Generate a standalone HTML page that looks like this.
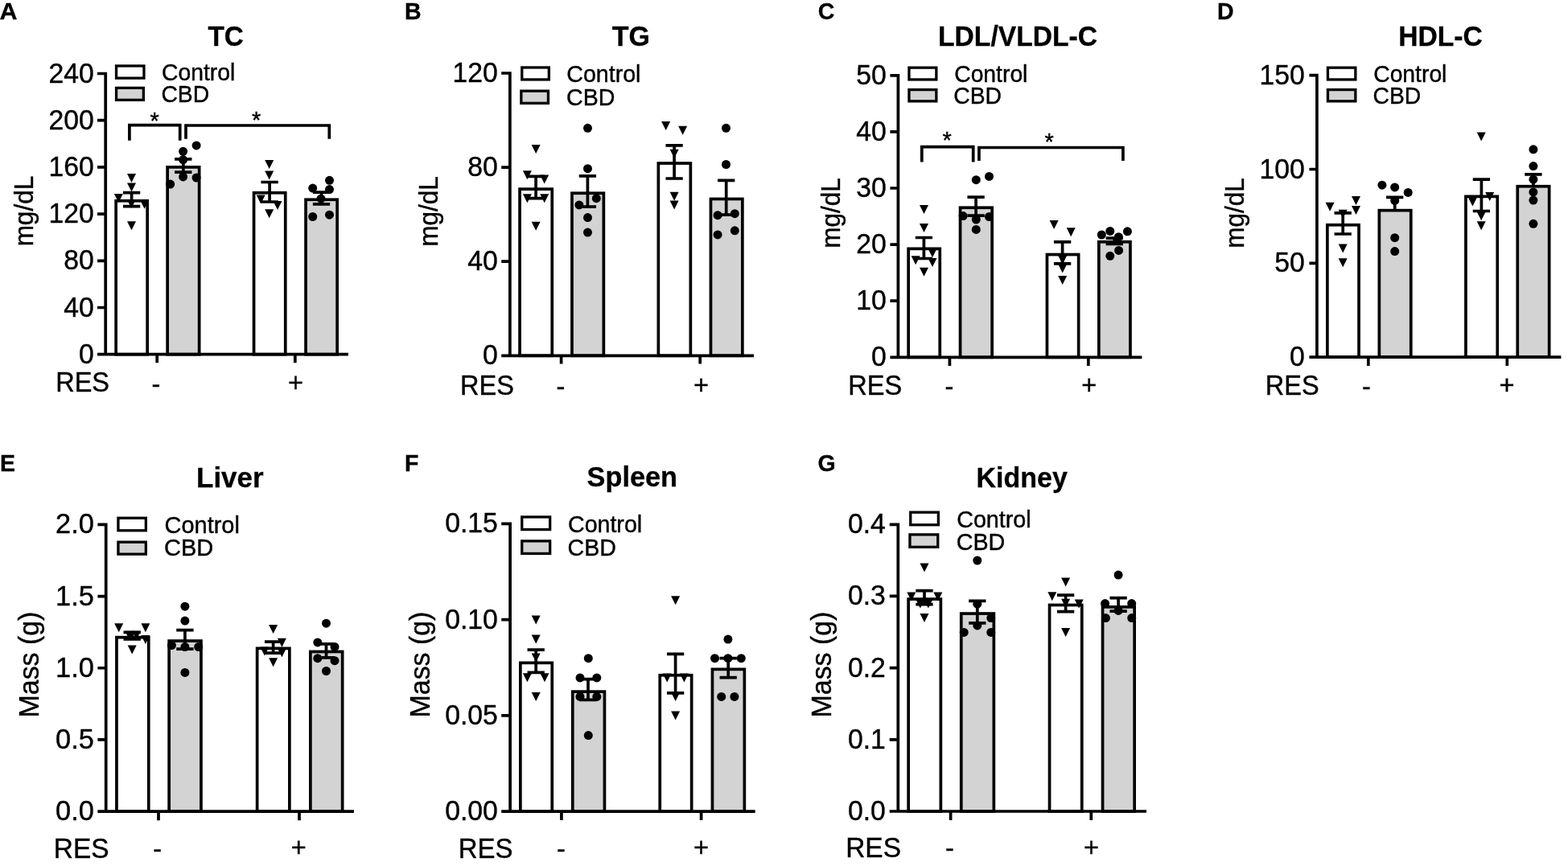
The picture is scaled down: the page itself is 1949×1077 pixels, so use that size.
<!DOCTYPE html>
<html lang="en">
<head>
<meta charset="utf-8">
<title>Figure</title>
<style>
html,body{margin:0;padding:0;background:#fff;}
body{width:1949px;height:1077px;overflow:hidden;}
svg{display:block;}
svg text{font-family:"Liberation Sans",sans-serif;fill:#000;}
</style>
</head>
<body>
<svg width="1949" height="1077" viewBox="0 0 1949 1077">
<rect width="1949" height="1077" fill="#fff"/>
<g class="panel">
<rect x="144.15" y="249.75" width="39" height="190.95" fill="#fff" stroke="#000" stroke-width="3.7"/>
<rect x="208.15" y="207.85" width="39.5" height="232.85" fill="#d3d3d3" stroke="#000" stroke-width="3.7"/>
<rect x="315.55" y="239.75" width="39.2" height="200.95" fill="#fff" stroke="#000" stroke-width="3.7"/>
<rect x="380.05" y="248.25" width="39.1" height="192.45" fill="#d3d3d3" stroke="#000" stroke-width="3.7"/>
<path d="M152.95 239.6H174.25M152.95 256.6H174.25M163.6 239.6V256.6" fill="none" stroke="#000" stroke-width="3.7"/>
<path d="M217.15 197.8H238.45M217.15 214.2H238.45M227.8 197.8V214.2" fill="none" stroke="#000" stroke-width="3.7"/>
<path d="M324.45 226.5H345.75M324.45 251H345.75M335.1 226.5V251" fill="none" stroke="#000" stroke-width="3.7"/>
<path d="M388.85 239.1H410.15M388.85 253.8H410.15M399.5 239.1V253.8" fill="none" stroke="#000" stroke-width="3.7"/>
<path d="M158 216h11l-5.5 11z"/>
<path d="M158 227.4h11l-5.5 11z"/>
<path d="M141.9 241h11l-5.5 11z"/>
<path d="M157.8 248.1h11l-5.5 11z"/>
<path d="M174.1 248.7h11l-5.5 11z"/>
<path d="M158 275.2h11l-5.5 11z"/>
<circle cx="244.1" cy="180.9" r="5.5"/>
<circle cx="227.6" cy="188.3" r="5.5"/>
<circle cx="227.6" cy="198.6" r="5.5"/>
<circle cx="227.6" cy="219.9" r="5.5"/>
<circle cx="244.1" cy="221" r="5.5"/>
<circle cx="211.7" cy="229.1" r="5.5"/>
<path d="M329.2 198.9h11l-5.5 11z"/>
<path d="M329.2 212.5h11l-5.5 11z"/>
<path d="M318.7 242.5h11l-5.5 11z"/>
<path d="M339.5 249.9h11l-5.5 11z"/>
<path d="M329.2 260.3h11l-5.5 11z"/>
<circle cx="409.5" cy="224.3" r="5.5"/>
<circle cx="388.7" cy="234.1" r="5.5"/>
<circle cx="409.5" cy="235.6" r="5.5"/>
<circle cx="399" cy="247.2" r="5.5"/>
<circle cx="388.7" cy="269.5" r="5.5"/>
<circle cx="409.5" cy="267.2" r="5.5"/>
<path d="M131.2 89.65V442.55M121 440.7H432.9M121 91.5H131.2M121 149.7H131.2M121 207.9H131.2M121 266.1H131.2M121 324.3H131.2M121 382.5H131.2M195.2 440.7V451.3M366.8 440.7V451.3" fill="none" stroke="#000" stroke-width="3.7"/>
<text transform="translate(116.8 102.5) scale(1 1.04)" font-size="33.7" text-anchor="end" stroke="#000" stroke-width="0.4">240</text>
<text transform="translate(116.8 160.7) scale(1 1.04)" font-size="33.7" text-anchor="end" stroke="#000" stroke-width="0.4">200</text>
<text transform="translate(116.8 218.9) scale(1 1.04)" font-size="33.7" text-anchor="end" stroke="#000" stroke-width="0.4">160</text>
<text transform="translate(116.8 277.1) scale(1 1.04)" font-size="33.7" text-anchor="end" stroke="#000" stroke-width="0.4">120</text>
<text transform="translate(116.8 335.3) scale(1 1.04)" font-size="33.7" text-anchor="end" stroke="#000" stroke-width="0.4">80</text>
<text transform="translate(116.8 393.5) scale(1 1.04)" font-size="33.7" text-anchor="end" stroke="#000" stroke-width="0.4">40</text>
<text transform="translate(116.8 451.7) scale(1 1.04)" font-size="33.7" text-anchor="end" stroke="#000" stroke-width="0.4">0</text>
<text transform="translate(41.2 262.6) rotate(-90) scale(1 1.045)" font-size="31.5" text-anchor="middle" stroke="#000" stroke-width="0.4">mg/dL</text>
<text transform="translate(280.6 56.6) scale(1 1.07)" font-size="33.3" text-anchor="middle" font-weight="bold" stroke="#000" stroke-width="0.3">TC</text>
<text transform="translate(-0.4 24.1) scale(1.07 1.06)" font-size="28.5" font-weight="bold" stroke="#000" stroke-width="0.3">A</text>
<rect x="144.55" y="81.95" width="34.4" height="15.2" fill="#fff" stroke="#000" stroke-width="3.3"/>
<rect x="144.55" y="109.35" width="33.8" height="15" fill="#d3d3d3" stroke="#000" stroke-width="3.3"/>
<text transform="translate(201 99.8) scale(1 1.045)" font-size="28.3" stroke="#000" stroke-width="0.4">Control</text>
<text transform="translate(200.4 127.2) scale(1 1.045)" font-size="28.3" stroke="#000" stroke-width="0.4">CBD</text>
<text transform="translate(69.2 487.2) scale(1 1.093)" font-size="32.5" stroke="#000" stroke-width="0.4">RES</text>
<text transform="translate(193.9 488.6)" font-size="32.5" text-anchor="middle" stroke="#000" stroke-width="0.4">-</text>
<text transform="translate(367.5 486.7)" font-size="32.5" text-anchor="middle" stroke="#000" stroke-width="0.4">+</text>
<path d="M160.9 174.7V155.7H223.7V174.7" fill="none" stroke="#000" stroke-width="3.7"/>
<path d="M231 172.7V156H409.3V172.7" fill="none" stroke="#000" stroke-width="3.7"/>
<text transform="translate(192.2 159.9)" font-size="29" text-anchor="middle" stroke="#000" stroke-width="0.4">*</text>
<text transform="translate(318.6 158.9)" font-size="29" text-anchor="middle" stroke="#000" stroke-width="0.4">*</text>
</g>
<g class="panel">
<rect x="646.05" y="235.15" width="40.2" height="207.15" fill="#fff" stroke="#000" stroke-width="3.7"/>
<rect x="710.95" y="240.25" width="39.4" height="202.05" fill="#d3d3d3" stroke="#000" stroke-width="3.7"/>
<rect x="818.35" y="203.05" width="40" height="239.25" fill="#fff" stroke="#000" stroke-width="3.7"/>
<rect x="883.45" y="247.45" width="39.4" height="194.85" fill="#d3d3d3" stroke="#000" stroke-width="3.7"/>
<path d="M655.45 219.4H676.75M655.45 246.7H676.75M666.1 219.4V246.7" fill="none" stroke="#000" stroke-width="3.7"/>
<path d="M719.75 218.9H741.05M719.75 257.2H741.05M730.4 218.9V257.2" fill="none" stroke="#000" stroke-width="3.7"/>
<path d="M827.45 180.9H848.75M827.45 222H848.75M838.1 180.9V222" fill="none" stroke="#000" stroke-width="3.7"/>
<path d="M892.05 224.3H913.35M892.05 267.2H913.35M902.7 224.3V267.2" fill="none" stroke="#000" stroke-width="3.7"/>
<path d="M660.6 180.1h11l-5.5 11z"/>
<path d="M649.9 212.2h11l-5.5 11z"/>
<path d="M671.2 217.4h11l-5.5 11z"/>
<path d="M649.9 241.3h11l-5.5 11z"/>
<path d="M671.2 241.3h11l-5.5 11z"/>
<path d="M660.6 275.7h11l-5.5 11z"/>
<circle cx="730.5" cy="159.3" r="5.5"/>
<circle cx="730.5" cy="209.7" r="5.5"/>
<circle cx="741.3" cy="246.7" r="5.5"/>
<circle cx="719.9" cy="254.9" r="5.5"/>
<circle cx="730.5" cy="270.6" r="5.5"/>
<circle cx="730.5" cy="289.1" r="5.5"/>
<path d="M822.1 151.1h11l-5.5 11z"/>
<path d="M843.1 156.7h11l-5.5 11z"/>
<path d="M832.6 185.8h11l-5.5 11z"/>
<path d="M832.6 238.7h11l-5.5 11z"/>
<path d="M832.6 249.5h11l-5.5 11z"/>
<circle cx="902.5" cy="159.3" r="5.5"/>
<circle cx="902.5" cy="204.5" r="5.5"/>
<circle cx="892.1" cy="267.7" r="5.5"/>
<circle cx="913.3" cy="265.7" r="5.5"/>
<circle cx="913.3" cy="286.8" r="5.5"/>
<circle cx="892.1" cy="291.9" r="5.5"/>
<path d="M633.85 89.15V444.15M623.2 442.3H937M623.2 91H633.85M623.2 208.1H633.85M623.2 325.2H633.85M697.6 442.3V452.4M870.2 442.3V452.4" fill="none" stroke="#000" stroke-width="3.7"/>
<text transform="translate(618.8 102) scale(1 1.04)" font-size="33.7" text-anchor="end" stroke="#000" stroke-width="0.4">120</text>
<text transform="translate(618.8 219.1) scale(1 1.04)" font-size="33.7" text-anchor="end" stroke="#000" stroke-width="0.4">80</text>
<text transform="translate(618.8 336.2) scale(1 1.04)" font-size="33.7" text-anchor="end" stroke="#000" stroke-width="0.4">40</text>
<text transform="translate(618.8 453.3) scale(1 1.04)" font-size="33.7" text-anchor="end" stroke="#000" stroke-width="0.4">0</text>
<text transform="translate(544 263) rotate(-90) scale(1 1.045)" font-size="31.5" text-anchor="middle" stroke="#000" stroke-width="0.4">mg/dL</text>
<text transform="translate(784.4 56.8) scale(1.02 1.07)" font-size="33.3" text-anchor="middle" font-weight="bold" stroke="#000" stroke-width="0.3">TG</text>
<text transform="translate(503 24.3) scale(1 1.06)" font-size="28.5" font-weight="bold" stroke="#000" stroke-width="0.3">B</text>
<rect x="648.75" y="83.95" width="33.6" height="15" fill="#fff" stroke="#000" stroke-width="3.3"/>
<rect x="647.85" y="113.15" width="33.6" height="15.2" fill="#d3d3d3" stroke="#000" stroke-width="3.3"/>
<text transform="translate(704.3 101.8) scale(1.01 1.045)" font-size="28.3" stroke="#000" stroke-width="0.4">Control</text>
<text transform="translate(704 130.9) scale(1.01 1.045)" font-size="28.3" stroke="#000" stroke-width="0.4">CBD</text>
<text transform="translate(572 490.8) scale(1 1.093)" font-size="32.5" stroke="#000" stroke-width="0.4">RES</text>
<text transform="translate(697 492.2)" font-size="32.5" text-anchor="middle" stroke="#000" stroke-width="0.4">-</text>
<text transform="translate(871.4 490.3)" font-size="32.5" text-anchor="middle" stroke="#000" stroke-width="0.4">+</text>
</g>
<g class="panel">
<rect x="1129.15" y="309.35" width="39.1" height="134.95" fill="#fff" stroke="#000" stroke-width="3.7"/>
<rect x="1193.55" y="258.25" width="39.6" height="186.05" fill="#d3d3d3" stroke="#000" stroke-width="3.7"/>
<rect x="1301.45" y="316.55" width="39.2" height="127.75" fill="#fff" stroke="#000" stroke-width="3.7"/>
<rect x="1365.85" y="300.75" width="39.1" height="143.55" fill="#d3d3d3" stroke="#000" stroke-width="3.7"/>
<path d="M1137.75 295.5H1159.05M1137.75 321.5H1159.05M1148.4 295.5V321.5" fill="none" stroke="#000" stroke-width="3.7"/>
<path d="M1202.45 245.1H1223.75M1202.45 268.1H1223.75M1213.1 245.1V268.1" fill="none" stroke="#000" stroke-width="3.7"/>
<path d="M1309.95 300.9H1331.25M1309.95 327.8H1331.25M1320.6 300.9V327.8" fill="none" stroke="#000" stroke-width="3.7"/>
<path d="M1374.65 296.2H1395.95M1374.65 303.5H1395.95M1385.3 296.2V303.5" fill="none" stroke="#000" stroke-width="3.7"/>
<path d="M1143 254.9h11l-5.5 11z"/>
<path d="M1143 278.1h11l-5.5 11z"/>
<path d="M1153.5 309.3h11l-5.5 11z"/>
<path d="M1132.6 318.3h11l-5.5 11z"/>
<path d="M1153.5 320.9h11l-5.5 11z"/>
<path d="M1143 332.8h11l-5.5 11z"/>
<circle cx="1213.3" cy="223.7" r="5.5"/>
<circle cx="1229.5" cy="219.4" r="5.5"/>
<circle cx="1197.1" cy="268.6" r="5.5"/>
<circle cx="1213.3" cy="273" r="5.5"/>
<circle cx="1229.5" cy="269.5" r="5.5"/>
<circle cx="1213.3" cy="285.4" r="5.5"/>
<path d="M1304.6 274h11l-5.5 11z"/>
<path d="M1325.7 283.2h11l-5.5 11z"/>
<path d="M1315.2 317.8h11l-5.5 11z"/>
<path d="M1315.2 328.6h11l-5.5 11z"/>
<path d="M1315.2 343h11l-5.5 11z"/>
<circle cx="1369.3" cy="292" r="5.5"/>
<circle cx="1379.8" cy="287.4" r="5.5"/>
<circle cx="1401.4" cy="287.8" r="5.5"/>
<circle cx="1390.4" cy="294.7" r="5.5"/>
<circle cx="1390.6" cy="311.4" r="5.5"/>
<circle cx="1379.8" cy="318.3" r="5.5"/>
<path d="M1116.4 91.95V446.15M1106.4 444.3H1419.4M1106.4 93.8H1116.4M1106.4 163.9H1116.4M1106.4 234H1116.4M1106.4 304.1H1116.4M1106.4 374.2H1116.4M1180.4 444.3V455M1352.8 444.3V455" fill="none" stroke="#000" stroke-width="3.7"/>
<text transform="translate(1101.7 104.8) scale(1 1.04)" font-size="33.7" text-anchor="end" stroke="#000" stroke-width="0.4">50</text>
<text transform="translate(1101.7 174.9) scale(1 1.04)" font-size="33.7" text-anchor="end" stroke="#000" stroke-width="0.4">40</text>
<text transform="translate(1101.7 245) scale(1 1.04)" font-size="33.7" text-anchor="end" stroke="#000" stroke-width="0.4">30</text>
<text transform="translate(1101.7 315.1) scale(1 1.04)" font-size="33.7" text-anchor="end" stroke="#000" stroke-width="0.4">20</text>
<text transform="translate(1101.7 385.2) scale(1 1.04)" font-size="33.7" text-anchor="end" stroke="#000" stroke-width="0.4">10</text>
<text transform="translate(1101.7 455.3) scale(1 1.04)" font-size="33.7" text-anchor="end" stroke="#000" stroke-width="0.4">0</text>
<text transform="translate(1044.1 265) rotate(-90) scale(1 1.045)" font-size="31.5" text-anchor="middle" stroke="#000" stroke-width="0.4">mg/dL</text>
<text transform="translate(1265 56.6) scale(1.01 1.07)" font-size="33.3" text-anchor="middle" font-weight="bold" stroke="#000" stroke-width="0.3">LDL/VLDL-C</text>
<text transform="translate(1016.7 24.3) scale(1 1.06)" font-size="28.5" font-weight="bold" stroke="#000" stroke-width="0.3">C</text>
<rect x="1129.95" y="84.15" width="33.9" height="14.8" fill="#fff" stroke="#000" stroke-width="3.3"/>
<rect x="1129.95" y="111.55" width="33.9" height="14.3" fill="#d3d3d3" stroke="#000" stroke-width="3.3"/>
<text transform="translate(1186.2 101.8) scale(1 1.045)" font-size="28.3" stroke="#000" stroke-width="0.4">Control</text>
<text transform="translate(1185.3 128.7) scale(1 1.045)" font-size="28.3" stroke="#000" stroke-width="0.4">CBD</text>
<text transform="translate(1054.3 490.8) scale(1 1.093)" font-size="32.5" stroke="#000" stroke-width="0.4">RES</text>
<text transform="translate(1179.9 492.2)" font-size="32.5" text-anchor="middle" stroke="#000" stroke-width="0.4">-</text>
<text transform="translate(1353.8 490.3)" font-size="32.5" text-anchor="middle" stroke="#000" stroke-width="0.4">+</text>
<path d="M1145.8 201.6V182.7H1209.7V201.6" fill="none" stroke="#000" stroke-width="3.7"/>
<path d="M1216.9 200.1V183.5H1395.9V200.1" fill="none" stroke="#000" stroke-width="3.7"/>
<text transform="translate(1177.1 183.7)" font-size="29" text-anchor="middle" stroke="#000" stroke-width="0.4">*</text>
<text transform="translate(1304.2 185.7)" font-size="29" text-anchor="middle" stroke="#000" stroke-width="0.4">*</text>
</g>
<g class="panel">
<rect x="1649.85" y="279.75" width="39.2" height="164.35" fill="#fff" stroke="#000" stroke-width="3.7"/>
<rect x="1714.35" y="261.65" width="39.4" height="182.45" fill="#d3d3d3" stroke="#000" stroke-width="3.7"/>
<rect x="1821.95" y="244.35" width="39.3" height="199.75" fill="#fff" stroke="#000" stroke-width="3.7"/>
<rect x="1886.25" y="231.75" width="39.4" height="212.35" fill="#d3d3d3" stroke="#000" stroke-width="3.7"/>
<path d="M1658.55 264.8H1679.85M1658.55 291H1679.85M1669.2 264.8V291" fill="none" stroke="#000" stroke-width="3.7"/>
<path d="M1723.05 245.3H1744.35M1733.7 245.3V261" fill="none" stroke="#000" stroke-width="3.7"/>
<path d="M1830.75 223.2H1852.05M1830.75 262.5H1852.05M1841.4 223.2V262.5" fill="none" stroke="#000" stroke-width="3.7"/>
<path d="M1895.25 216.8H1916.55M1905.9 216.8V231.5" fill="none" stroke="#000" stroke-width="3.7"/>
<path d="M1647.6 251.7h11l-5.5 11z"/>
<path d="M1680 244h11l-5.5 11z"/>
<path d="M1680 256.1h11l-5.5 11z"/>
<path d="M1663.7 260.7h11l-5.5 11z"/>
<path d="M1663.7 303.4h11l-5.5 11z"/>
<path d="M1663.7 321.3h11l-5.5 11z"/>
<circle cx="1717.9" cy="230.2" r="5.5"/>
<circle cx="1733.7" cy="232.9" r="5.5"/>
<circle cx="1750.2" cy="239.4" r="5.5"/>
<circle cx="1733.7" cy="249.4" r="5.5"/>
<circle cx="1733.7" cy="295.7" r="5.5"/>
<circle cx="1733.7" cy="312.6" r="5.5"/>
<path d="M1835.7 164.6h11l-5.5 11z"/>
<path d="M1846.2 239.1h11l-5.5 11z"/>
<path d="M1824.9 245.6h11l-5.5 11z"/>
<path d="M1835.7 263.3h11l-5.5 11z"/>
<path d="M1835.7 275.2h11l-5.5 11z"/>
<circle cx="1905.9" cy="185.8" r="5.5"/>
<circle cx="1905.9" cy="206.6" r="5.5"/>
<circle cx="1905.9" cy="223.2" r="5.5"/>
<circle cx="1905.9" cy="238.9" r="5.5"/>
<circle cx="1905.9" cy="249.1" r="5.5"/>
<circle cx="1905.9" cy="278.3" r="5.5"/>
<path d="M1636.9 91.85V445.95M1627.4 444.1H1940.4M1627.4 93.7H1636.9M1627.4 210.5H1636.9M1627.4 327.3H1636.9M1700.8 444.1V455M1873.3 444.1V455" fill="none" stroke="#000" stroke-width="3.7"/>
<text transform="translate(1621.7 104.7) scale(1 1.04)" font-size="33.7" text-anchor="end" stroke="#000" stroke-width="0.4">150</text>
<text transform="translate(1621.7 221.5) scale(1 1.04)" font-size="33.7" text-anchor="end" stroke="#000" stroke-width="0.4">100</text>
<text transform="translate(1621.7 338.3) scale(1 1.04)" font-size="33.7" text-anchor="end" stroke="#000" stroke-width="0.4">50</text>
<text transform="translate(1621.7 455.1) scale(1 1.04)" font-size="33.7" text-anchor="end" stroke="#000" stroke-width="0.4">0</text>
<text transform="translate(1546 265) rotate(-90) scale(1 1.045)" font-size="31.5" text-anchor="middle" stroke="#000" stroke-width="0.4">mg/dL</text>
<text transform="translate(1790.4 56.5) scale(1.01 1.07)" font-size="33.3" text-anchor="middle" font-weight="bold" stroke="#000" stroke-width="0.3">HDL-C</text>
<text transform="translate(1513 24.3) scale(1 1.06)" font-size="28.5" font-weight="bold" stroke="#000" stroke-width="0.3">D</text>
<rect x="1650.45" y="84.15" width="34.4" height="14.8" fill="#fff" stroke="#000" stroke-width="3.3"/>
<rect x="1650.45" y="111.55" width="34.4" height="14.3" fill="#d3d3d3" stroke="#000" stroke-width="3.3"/>
<text transform="translate(1707.2 101.8) scale(1 1.045)" font-size="28.3" stroke="#000" stroke-width="0.4">Control</text>
<text transform="translate(1706.5 128.7) scale(1 1.045)" font-size="28.3" stroke="#000" stroke-width="0.4">CBD</text>
<text transform="translate(1572.8 490.8) scale(1 1.093)" font-size="32.5" stroke="#000" stroke-width="0.4">RES</text>
<text transform="translate(1698.3 492.2)" font-size="32.5" text-anchor="middle" stroke="#000" stroke-width="0.4">-</text>
<text transform="translate(1873 490.3)" font-size="32.5" text-anchor="middle" stroke="#000" stroke-width="0.4">+</text>
</g>
<g class="panel">
<rect x="144.95" y="792.65" width="39.8" height="216.45" fill="#fff" stroke="#000" stroke-width="3.7"/>
<rect x="210.15" y="797.05" width="39.8" height="212.05" fill="#d3d3d3" stroke="#000" stroke-width="3.7"/>
<rect x="319.65" y="806.35" width="40.2" height="202.75" fill="#fff" stroke="#000" stroke-width="3.7"/>
<rect x="385.85" y="810.45" width="39.8" height="198.65" fill="#d3d3d3" stroke="#000" stroke-width="3.7"/>
<path d="M153.55 786.3H174.85M153.55 794.8H174.85M164.2 786.3V794.8" fill="none" stroke="#000" stroke-width="3.7"/>
<path d="M219.25 783.7H240.55M219.25 807.1H240.55M229.9 783.7V807.1" fill="none" stroke="#000" stroke-width="3.7"/>
<path d="M328.95 798.2H350.25M328.95 812.2H350.25M339.6 798.2V812.2" fill="none" stroke="#000" stroke-width="3.7"/>
<path d="M394.85 800.9H416.15M394.85 817.9H416.15M405.5 800.9V817.9" fill="none" stroke="#000" stroke-width="3.7"/>
<path d="M142.2 775.2h11l-5.5 11z"/>
<path d="M175.4 775.2h11l-5.5 11z"/>
<path d="M155.4 784.7h11l-5.5 11z"/>
<path d="M164 784.7h11l-5.5 11z"/>
<path d="M175.4 790.1h11l-5.5 11z"/>
<path d="M158.7 802.5h11l-5.5 11z"/>
<circle cx="229.9" cy="754.2" r="5.5"/>
<circle cx="229.9" cy="772.1" r="5.5"/>
<circle cx="213.4" cy="802.6" r="5.5"/>
<circle cx="229.9" cy="804.5" r="5.5"/>
<circle cx="246.7" cy="804.5" r="5.5"/>
<circle cx="229.9" cy="836.4" r="5.5"/>
<path d="M334.1 777h11l-5.5 11z"/>
<path d="M344.9 793.7h11l-5.5 11z"/>
<path d="M323.4 804.5h11l-5.5 11z"/>
<path d="M344.9 806.3h11l-5.5 11z"/>
<path d="M334.1 818.2h11l-5.5 11z"/>
<circle cx="405.5" cy="775.2" r="5.5"/>
<circle cx="394.8" cy="798.9" r="5.5"/>
<circle cx="416" cy="804.5" r="5.5"/>
<circle cx="394.8" cy="818.7" r="5.5"/>
<circle cx="416" cy="821.7" r="5.5"/>
<circle cx="405.5" cy="834.5" r="5.5"/>
<path d="M131.7 650.55V1010.95M121.4 1009.1H439.9M121.4 652.4H131.7M121.4 741.58H131.7M121.4 830.75H131.7M121.4 919.92H131.7M197 1009.1V1020.3M372 1009.1V1020.3" fill="none" stroke="#000" stroke-width="3.7"/>
<text transform="translate(116.9 663.4) scale(1.02 1.04)" font-size="33.7" text-anchor="end" stroke="#000" stroke-width="0.4">2.0</text>
<text transform="translate(116.9 752.58) scale(1.02 1.04)" font-size="33.7" text-anchor="end" stroke="#000" stroke-width="0.4">1.5</text>
<text transform="translate(116.9 841.75) scale(1.02 1.04)" font-size="33.7" text-anchor="end" stroke="#000" stroke-width="0.4">1.0</text>
<text transform="translate(116.9 930.92) scale(1.02 1.04)" font-size="33.7" text-anchor="end" stroke="#000" stroke-width="0.4">0.5</text>
<text transform="translate(116.9 1020.1) scale(1.02 1.04)" font-size="33.7" text-anchor="end" stroke="#000" stroke-width="0.4">0.0</text>
<text transform="translate(47.6 826.5) rotate(-90) scale(1 1.02)" font-size="33.9" text-anchor="middle" stroke="#000" stroke-width="0.4">Mass (g)</text>
<text transform="translate(285.8 605.9) scale(1.05 1.07)" font-size="33.3" text-anchor="middle" font-weight="bold" stroke="#000" stroke-width="0.3">Liver</text>
<text transform="translate(0 585.8) scale(1 1.06)" font-size="28.5" font-weight="bold" stroke="#000" stroke-width="0.3">E</text>
<rect x="146.95" y="644.25" width="34.4" height="15.5" fill="#fff" stroke="#000" stroke-width="3.3"/>
<rect x="146.95" y="674.15" width="34.4" height="15" fill="#d3d3d3" stroke="#000" stroke-width="3.3"/>
<text transform="translate(204.6 662.6) scale(1.023 1.045)" font-size="28.3" stroke="#000" stroke-width="0.4">Control</text>
<text transform="translate(204 691.4) scale(1.023 1.045)" font-size="28.3" stroke="#000" stroke-width="0.4">CBD</text>
<text transform="translate(66.8 1066.5) scale(1.03 1.093)" font-size="32.5" stroke="#000" stroke-width="0.4">RES</text>
<text transform="translate(195.6 1066.8)" font-size="32.5" text-anchor="middle" stroke="#000" stroke-width="0.4">-</text>
<text transform="translate(371.3 1065)" font-size="32.5" text-anchor="middle" stroke="#000" stroke-width="0.4">+</text>
</g>
<g class="panel">
<rect x="646.85" y="824.35" width="39.4" height="184.85" fill="#fff" stroke="#000" stroke-width="3.7"/>
<rect x="711.75" y="860.15" width="39.7" height="149.05" fill="#d3d3d3" stroke="#000" stroke-width="3.7"/>
<rect x="820.25" y="839.75" width="39.4" height="169.45" fill="#fff" stroke="#000" stroke-width="3.7"/>
<rect x="885.45" y="832.35" width="39.9" height="176.85" fill="#d3d3d3" stroke="#000" stroke-width="3.7"/>
<path d="M655.55 808.2H676.85M655.55 836.4H676.85M666.2 808.2V836.4" fill="none" stroke="#000" stroke-width="3.7"/>
<path d="M720.35 844.6H741.65M720.35 870.3H741.65M731 844.6V870.3" fill="none" stroke="#000" stroke-width="3.7"/>
<path d="M828.95 813.3H850.25M828.95 861.8H850.25M839.6 813.3V861.8" fill="none" stroke="#000" stroke-width="3.7"/>
<path d="M894.55 818.7H915.85M894.55 842.6H915.85M905.2 818.7V842.6" fill="none" stroke="#000" stroke-width="3.7"/>
<path d="M660.7 765.5h11l-5.5 11z"/>
<path d="M660.7 789.4h11l-5.5 11z"/>
<path d="M660.7 812.5h11l-5.5 11z"/>
<path d="M649.9 837.2h11l-5.5 11z"/>
<path d="M671.5 837.2h11l-5.5 11z"/>
<path d="M660.7 861.1h11l-5.5 11z"/>
<circle cx="731.3" cy="818.7" r="5.5"/>
<circle cx="721" cy="842.9" r="5.5"/>
<circle cx="741.8" cy="842.9" r="5.5"/>
<circle cx="721" cy="866.4" r="5.5"/>
<circle cx="741.8" cy="866.4" r="5.5"/>
<circle cx="731.3" cy="914.6" r="5.5"/>
<path d="M834.1 741.3h11l-5.5 11z"/>
<path d="M823.7 837.5h11l-5.5 11z"/>
<path d="M844.9 837.5h11l-5.5 11z"/>
<path d="M834.1 861.1h11l-5.5 11z"/>
<path d="M834.1 884.6h11l-5.5 11z"/>
<circle cx="904.9" cy="795.1" r="5.5"/>
<circle cx="888.5" cy="818.7" r="5.5"/>
<circle cx="904.9" cy="818.7" r="5.5"/>
<circle cx="921.3" cy="818.7" r="5.5"/>
<circle cx="896.7" cy="866.4" r="5.5"/>
<circle cx="912.9" cy="866.4" r="5.5"/>
<path d="M634.1 649.45V1011.05M623.2 1009.2H938.7M623.2 651.3H634.1M623.2 770.6H634.1M623.2 889.9H634.1M697.9 1009.2V1020.1M871.6 1009.2V1020.1" fill="none" stroke="#000" stroke-width="3.7"/>
<text transform="translate(618.8 662.3) scale(1 1.04)" font-size="33.7" text-anchor="end" stroke="#000" stroke-width="0.4">0.15</text>
<text transform="translate(618.8 781.6) scale(1 1.04)" font-size="33.7" text-anchor="end" stroke="#000" stroke-width="0.4">0.10</text>
<text transform="translate(618.8 900.9) scale(1 1.04)" font-size="33.7" text-anchor="end" stroke="#000" stroke-width="0.4">0.05</text>
<text transform="translate(618.8 1020.2) scale(1 1.04)" font-size="33.7" text-anchor="end" stroke="#000" stroke-width="0.4">0.00</text>
<text transform="translate(534 826.5) rotate(-90) scale(1 1.02)" font-size="33.9" text-anchor="middle" stroke="#000" stroke-width="0.4">Mass (g)</text>
<text transform="translate(785.8 605.4) scale(1.03 1.07)" font-size="33.3" text-anchor="middle" font-weight="bold" stroke="#000" stroke-width="0.3">Spleen</text>
<text transform="translate(503 585.8) scale(1 1.06)" font-size="28.5" font-weight="bold" stroke="#000" stroke-width="0.3">F</text>
<rect x="648.75" y="642.95" width="34.9" height="15.6" fill="#fff" stroke="#000" stroke-width="3.3"/>
<rect x="648.75" y="672.85" width="34.9" height="15.6" fill="#d3d3d3" stroke="#000" stroke-width="3.3"/>
<text transform="translate(706 661.9) scale(1.01 1.045)" font-size="28.3" stroke="#000" stroke-width="0.4">Control</text>
<text transform="translate(705.5 691.3) scale(1.01 1.045)" font-size="28.3" stroke="#000" stroke-width="0.4">CBD</text>
<text transform="translate(569.8 1066.5) scale(1.015 1.093)" font-size="32.5" stroke="#000" stroke-width="0.4">RES</text>
<text transform="translate(697.4 1066.8)" font-size="32.5" text-anchor="middle" stroke="#000" stroke-width="0.4">-</text>
<text transform="translate(871.4 1065)" font-size="32.5" text-anchor="middle" stroke="#000" stroke-width="0.4">+</text>
</g>
<g class="panel">
<rect x="1129.15" y="745.05" width="40.2" height="263.95" fill="#fff" stroke="#000" stroke-width="3.7"/>
<rect x="1194.75" y="763.05" width="40.6" height="245.95" fill="#d3d3d3" stroke="#000" stroke-width="3.7"/>
<rect x="1304.55" y="752.45" width="40.2" height="256.55" fill="#fff" stroke="#000" stroke-width="3.7"/>
<rect x="1370.55" y="754.85" width="39.6" height="254.15" fill="#d3d3d3" stroke="#000" stroke-width="3.7"/>
<path d="M1138.35 734.7H1159.65M1138.35 751.7H1159.65M1149 734.7V751.7" fill="none" stroke="#000" stroke-width="3.7"/>
<path d="M1204.15 747.4H1225.45M1204.15 774.8H1225.45M1214.8 747.4V774.8" fill="none" stroke="#000" stroke-width="3.7"/>
<path d="M1313.95 740.1H1335.25M1313.95 760.6H1335.25M1324.6 740.1V760.6" fill="none" stroke="#000" stroke-width="3.7"/>
<path d="M1379.45 743.7H1400.75M1379.45 760.2H1400.75M1390.1 743.7V760.2" fill="none" stroke="#000" stroke-width="3.7"/>
<path d="M1143.5 700.5h11l-5.5 11z"/>
<path d="M1127.3 736.6h11l-5.5 11z"/>
<path d="M1160.3 736.6h11l-5.5 11z"/>
<path d="M1138.4 745.5h11l-5.5 11z"/>
<path d="M1148.4 745.5h11l-5.5 11z"/>
<path d="M1143.5 762.9h11l-5.5 11z"/>
<circle cx="1214.8" cy="697" r="5.5"/>
<circle cx="1214.8" cy="751.2" r="5.5"/>
<circle cx="1231.8" cy="768.6" r="5.5"/>
<circle cx="1214.8" cy="777.9" r="5.5"/>
<circle cx="1198.2" cy="786.4" r="5.5"/>
<circle cx="1231.8" cy="786.4" r="5.5"/>
<path d="M1319.1 718.5h11l-5.5 11z"/>
<path d="M1302.3 736.3h11l-5.5 11z"/>
<path d="M1319.1 744.7h11l-5.5 11z"/>
<path d="M1335.7 745.5h11l-5.5 11z"/>
<path d="M1319.1 781h11l-5.5 11z"/>
<circle cx="1390.1" cy="715.1" r="5.5"/>
<circle cx="1373.6" cy="750.6" r="5.5"/>
<circle cx="1406.7" cy="750.6" r="5.5"/>
<circle cx="1390.1" cy="759.4" r="5.5"/>
<circle cx="1374.4" cy="768.6" r="5.5"/>
<circle cx="1406.7" cy="768.6" r="5.5"/>
<path d="M1116.3 650.45V1010.85M1105.7 1009H1425M1105.7 652.3H1116.3M1105.7 741.47H1116.3M1105.7 830.65H1116.3M1105.7 919.83H1116.3M1181.6 1009V1020M1356.3 1009V1020" fill="none" stroke="#000" stroke-width="3.7"/>
<text transform="translate(1100.8 663.3) scale(1 1.04)" font-size="33.7" text-anchor="end" stroke="#000" stroke-width="0.4">0.4</text>
<text transform="translate(1100.8 752.47) scale(1 1.04)" font-size="33.7" text-anchor="end" stroke="#000" stroke-width="0.4">0.3</text>
<text transform="translate(1100.8 841.65) scale(1 1.04)" font-size="33.7" text-anchor="end" stroke="#000" stroke-width="0.4">0.2</text>
<text transform="translate(1100.8 930.83) scale(1 1.04)" font-size="33.7" text-anchor="end" stroke="#000" stroke-width="0.4">0.1</text>
<text transform="translate(1100.8 1020) scale(1 1.04)" font-size="33.7" text-anchor="end" stroke="#000" stroke-width="0.4">0.0</text>
<text transform="translate(1033 826.5) rotate(-90) scale(1 1.02)" font-size="33.9" text-anchor="middle" stroke="#000" stroke-width="0.4">Mass (g)</text>
<text transform="translate(1270.2 605.9) scale(1.02 1.07)" font-size="33.3" text-anchor="middle" font-weight="bold" stroke="#000" stroke-width="0.3">Kidney</text>
<text transform="translate(1016.5 585.9) scale(1 1.06)" font-size="28.5" font-weight="bold" stroke="#000" stroke-width="0.3">G</text>
<rect x="1131.75" y="637.15" width="34.6" height="15.6" fill="#fff" stroke="#000" stroke-width="3.3"/>
<rect x="1130.95" y="664.85" width="34.8" height="15.5" fill="#d3d3d3" stroke="#000" stroke-width="3.3"/>
<text transform="translate(1189.2 656.1) scale(1.014 1.045)" font-size="28.3" stroke="#000" stroke-width="0.4">Control</text>
<text transform="translate(1188.7 683.7) scale(1.014 1.045)" font-size="28.3" stroke="#000" stroke-width="0.4">CBD</text>
<text transform="translate(1051.2 1066.1) scale(1.03 1.093)" font-size="32.5" stroke="#000" stroke-width="0.4">RES</text>
<text transform="translate(1180.4 1066.3)" font-size="32.5" text-anchor="middle" stroke="#000" stroke-width="0.4">-</text>
<text transform="translate(1356.5 1064.9)" font-size="32.5" text-anchor="middle" stroke="#000" stroke-width="0.4">+</text>
</g>
</svg>
</body>
</html>
